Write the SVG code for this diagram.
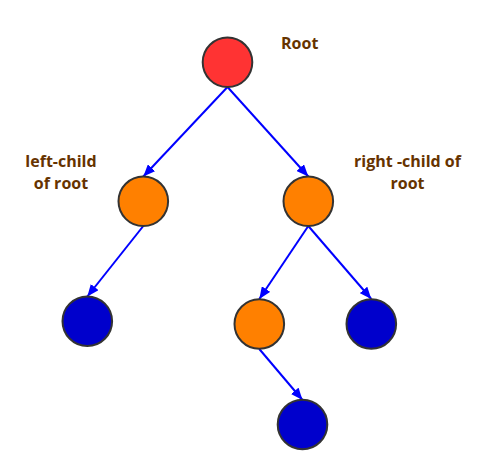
<svg xmlns="http://www.w3.org/2000/svg" width="493" height="474" viewBox="0 0 493 474">
<style>
.n{stroke:#333333;stroke-width:2}
.red{fill:#FF3333}
.org{fill:#FF8000}
.blu{fill:#0000CC}
.e{stroke:#0000FF;stroke-width:2;fill:none;marker-end:url(#ah)}
.t{font-family:"Open Sans","Noto Sans",sans-serif;font-weight:bold;font-size:16px;fill:#663300}
</style>
<defs>
<marker id="ah" viewBox="0 0 12 10" refX="12" refY="5" markerWidth="12" markerHeight="10" markerUnits="userSpaceOnUse" orient="auto">
<path d="M0,0 L12,5 L0,10 z" fill="#0000FF"/>
</marker>
</defs>
<rect width="493" height="474" fill="#FFFFFF"/>
<g id="connectors">
<line class="e" x1="227.5" y1="87" x2="143.3" y2="176.5"/>
<line class="e" x1="227.5" y1="87" x2="308.3" y2="176.5"/>
<line class="e" x1="143.3" y1="226" x2="87.3" y2="296.5"/>
<line class="e" x1="308.3" y1="226" x2="259.3" y2="299"/>
<line class="e" x1="308.3" y1="226" x2="371.3" y2="299"/>
<line class="e" x1="259.3" y1="349" x2="302.5" y2="400"/>
</g>
<g id="root"><circle class="n red" cx="227.5" cy="62.3" r="24.8"/></g>
<g id="left-child"><circle class="n org" cx="143.3" cy="201.3" r="24.8"/></g>
<g id="right-child"><circle class="n org" cx="308.3" cy="201.3" r="24.8"/></g>
<g id="left-left"><circle class="n blu" cx="87.3" cy="321.2" r="24.8"/></g>
<g id="right-left"><circle class="n org" cx="259.3" cy="324" r="24.8"/></g>
<g id="right-right"><circle class="n blu" cx="371.3" cy="324" r="24.8"/></g>
<g id="right-left-right"><circle class="n blu" cx="302.5" cy="424.5" r="24.8"/></g>
<g id="labels">
<text class="t" x="281" y="49">Root</text>
<text class="t" x="61" y="166.5" text-anchor="middle">left-child</text>
<text class="t" x="61" y="188.5" text-anchor="middle">of root</text>
<text class="t" x="407.5" y="167" text-anchor="middle">right -child of</text>
<text class="t" x="407.5" y="189" text-anchor="middle">root</text>
</g>
</svg>
